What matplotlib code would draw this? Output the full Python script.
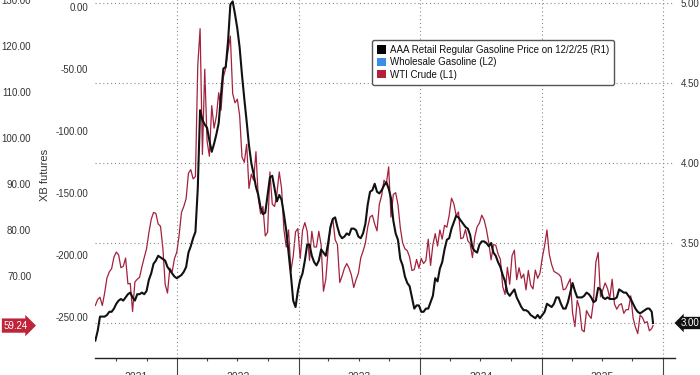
import matplotlib
matplotlib.use("Agg")
import matplotlib.pyplot as plt
import matplotlib.dates as mdates
import matplotlib.transforms as mtransforms
from matplotlib.patches import Patch
import pandas as pd

# WTI crude, weekly closes (first Friday of each block, then every 7 days)
wti_2021 = [63.6, 64.9, 65.4, 63.6, 66.3, 69.6, 70.9, 71.6, 74.1, 75.2,
            74.6, 71.8, 72.1, 73.9, 68.3, 68.4, 62.3, 68.7, 69.3, 69.7,
            72.0, 74.0, 75.9, 79.4, 82.3, 83.8, 83.6, 81.3, 80.8, 76.1,
            68.2, 66.3, 71.7, 70.9, 73.8, 75.2]
wti_2022 = [78.9, 83.8, 85.1, 86.8, 92.3, 93.1, 91.1, 91.6, 115.7, 123.7,
            96.4, 114.9, 99.3, 96.0, 107.0, 102.1, 104.7, 109.8, 106.0, 113.2,
            115.1, 118.9, 122.1, 109.6, 107.6, 108.4, 104.8, 95.8, 94.7, 98.6,
            89.0, 92.1, 90.8, 97.0, 86.9, 83.5, 85.1, 78.7, 79.5, 92.6,
            85.6, 85.1, 87.9, 92.6, 89.0, 80.1, 76.3, 80.0, 71.0, 74.3,
            79.6, 80.3]
wti_2023 = [73.8, 79.9, 81.6, 79.7, 73.4, 79.7, 76.3, 76.3, 79.7, 76.7,
            66.7, 69.3, 75.7, 80.7, 82.5, 77.9, 76.8, 68.6, 70.0, 71.7,
            72.7, 71.7, 70.2, 67.5, 69.2, 70.6, 73.9, 75.4, 77.1, 80.6,
            82.8, 83.2, 81.3, 79.8, 85.6, 87.5, 90.8, 90.0, 93.7, 82.8,
            87.7, 88.1, 85.5, 80.5, 77.2, 75.9, 75.5, 74.1, 71.2, 71.4,
            73.6, 71.7]
wti_2024 = [73.8, 72.7, 73.4, 78.0, 72.3, 76.8, 79.2, 76.5, 80.0, 78.0,
            81.0, 80.6, 83.2, 86.9, 85.7, 83.1, 83.9, 78.1, 78.3, 80.1,
            77.7, 77.0, 74.0, 78.5, 80.7, 81.5, 83.2, 82.2, 80.1, 77.2,
            73.5, 76.8, 76.7, 74.8, 73.6, 67.7, 66.0, 71.9, 68.2, 74.4,
            75.6, 69.2, 71.8, 69.5, 70.4, 67.0, 71.2, 68.0, 67.2, 71.3,
            69.5, 70.6]
wti_2025 = [74.0, 76.6, 80.0, 74.7, 72.5, 71.0, 70.7, 70.4, 69.8, 67.0,
            67.2, 68.3, 69.4, 62.0, 59.0, 64.7, 63.0, 58.3, 57.9, 62.5,
            61.5, 60.8, 64.6, 73.0, 75.1, 65.5, 67.0, 68.5, 67.3, 65.2,
            69.3, 63.9, 62.8, 63.7, 64.0, 61.9, 62.7, 62.7, 65.7, 60.9,
            58.9, 57.5, 61.5, 61.0, 59.8, 60.1, 58.1, 58.6]
wti_last = 59.24

# AAA retail regular gasoline, weekly
aaa_2021 = [2.89, 2.95, 3.04, 3.04, 3.04, 3.05, 3.07, 3.07, 3.09, 3.12,
            3.14, 3.15, 3.14, 3.16, 3.18, 3.19, 3.16, 3.14, 3.18, 3.18,
            3.19, 3.18, 3.20, 3.27, 3.31, 3.37, 3.39, 3.42, 3.41, 3.40,
            3.39, 3.35, 3.33, 3.31, 3.29, 3.28]
aaa_2022 = [3.29, 3.30, 3.32, 3.35, 3.44, 3.48, 3.53, 3.57, 3.84, 4.33,
            4.27, 4.24, 4.22, 4.14, 4.07, 4.12, 4.18, 4.25, 4.43, 4.59,
            4.60, 4.76, 4.99, 5.01, 4.93, 4.84, 4.72, 4.55, 4.40, 4.26,
            4.11, 4.00, 3.93, 3.85, 3.80, 3.72, 3.68, 3.69, 3.80, 3.91,
            3.92, 3.84, 3.76, 3.80, 3.77, 3.68, 3.58, 3.44, 3.30, 3.14,
            3.10, 3.20]
aaa_2023 = [3.27, 3.31, 3.39, 3.49, 3.49, 3.42, 3.38, 3.36, 3.39, 3.46,
            3.44, 3.42, 3.50, 3.60, 3.65, 3.66, 3.60, 3.55, 3.53, 3.54,
            3.56, 3.55, 3.59, 3.59, 3.58, 3.54, 3.53, 3.56, 3.62, 3.74,
            3.82, 3.83, 3.87, 3.82, 3.81, 3.83, 3.86, 3.88, 3.84, 3.78,
            3.64, 3.56, 3.52, 3.40, 3.36, 3.29, 3.25, 3.23, 3.16, 3.09,
            3.11, 3.11]
aaa_2024 = [3.07, 3.07, 3.09, 3.09, 3.13, 3.17, 3.28, 3.26, 3.34, 3.38,
            3.46, 3.52, 3.53, 3.59, 3.63, 3.67, 3.66, 3.64, 3.62, 3.60,
            3.59, 3.55, 3.47, 3.45, 3.44, 3.49, 3.51, 3.51, 3.50, 3.48,
            3.50, 3.44, 3.42, 3.38, 3.35, 3.30, 3.26, 3.19, 3.17, 3.19,
            3.21, 3.16, 3.13, 3.10, 3.08, 3.08, 3.07, 3.05, 3.04, 3.03,
            3.05, 3.03]
aaa_2025 = [3.05, 3.07, 3.12, 3.11, 3.10, 3.12, 3.16, 3.16, 3.12, 3.09,
            3.09, 3.13, 3.19, 3.25, 3.20, 3.16, 3.16, 3.16, 3.17, 3.19,
            3.18, 3.16, 3.13, 3.14, 3.22, 3.21, 3.16, 3.15, 3.16, 3.15,
            3.15, 3.15, 3.16, 3.21, 3.20, 3.19, 3.19, 3.17, 3.15, 3.12,
            3.09, 3.07, 3.06, 3.07, 3.08, 3.09, 3.09, 3.07]
aaa_last = 3.00

block_starts = ["2021-04-30", "2022-01-07", "2023-01-06", "2024-01-05", "2025-01-03"]
last_day = "2025-12-02"
years = [2021, 2022, 2023, 2024, 2025]

legend_labels = ["AAA Retail Regular Gasoline Price on 12/2/25 (R1)",
                 "Wholesale Gasoline (L2)", "WTI Crude (L1)"]
legend_colors = ["#000000", "#3a8ee6", "#b3203a"]

wti_ticks = [70, 80, 90, 100, 110, 120, 130]
xb_ticks = [0, -50, -100, -150, -200, -250]
aaa_ticks = [3.0, 3.5, 4.0, 4.5, 5.0]


def build(blocks):
    dates, vals = [], []
    for start, block in zip(block_starts, blocks):
        dates += list(pd.date_range(start, periods=len(block), freq="7D"))
        vals += block
    return dates, vals


wti_dates, wti = build([wti_2021, wti_2022, wti_2023, wti_2024, wti_2025])
aaa_dates, aaa = build([aaa_2021, aaa_2022, aaa_2023, aaa_2024, aaa_2025])
wti_dates.append(pd.Timestamp(last_day)); wti.append(wti_last)
aaa_dates.append(pd.Timestamp(last_day)); aaa.append(aaa_last)

plt.rcParams["font.family"] = ["Liberation Sans", "DejaVu Sans"]
fig = plt.figure(figsize=(7.0, 3.75), dpi=100)
fig.patch.set_facecolor("white")

# plot area spans px 95..675 horizontally, bottom at 358, top beyond the crop
ax = fig.add_axes([95 / 700, 17 / 375, 580 / 700, 378 / 375])
ax_xb = ax.twinx()
ax_aaa = ax.twinx()

grid_kw = dict(color="#8a8a8a", linewidth=0.8, linestyle=(0, (1, 2.5)))
tick_col = "#333333"
tick_fs = 7

# WTI (outer left axis)
ax.plot(wti_dates, wti, color="#a3213d", linewidth=0.9, zorder=2)
ax.set_ylim(52.2, 134.27)
ax.set_yticks(wti_ticks)
ax.yaxis.set_major_formatter(matplotlib.ticker.FormatStrFormatter("%.2f"))
ax.spines["left"].set_position(("outward", 41))
ax.tick_params(axis="y", length=0, pad=5, labelsize=tick_fs, labelcolor=tick_col)

# XB futures (inner left axis, no visible series)
ax_xb.yaxis.tick_left()
ax_xb.yaxis.set_label_position("left")
ax_xb.set_ylim(-283.06, 21.77)
ax_xb.set_yticks(xb_ticks)
ax_xb.yaxis.set_major_formatter(matplotlib.ticker.FormatStrFormatter("%.2f"))
ax_xb.tick_params(axis="y", length=0, pad=5, labelsize=tick_fs, labelcolor=tick_col)
ax_xb.set_ylabel("XB futures", fontsize=8, color="#333333")
ax_xb.yaxis.set_label_coords(-(95 - 50) / 580, (358 - 175) / 378)

# AAA retail (right axis)
ax_aaa.plot(aaa_dates, aaa, color="#111111", linewidth=1.5, zorder=3)
ax_aaa.set_ylim(2.78125, 5.14375)
ax_aaa.set_yticks(aaa_ticks)
ax_aaa.set_yticklabels([""] + ["%.2f" % t for t in aaa_ticks[1:]])
ax_aaa.tick_params(axis="y", length=0, pad=4.3, labelsize=tick_fs, labelcolor=tick_col)
ax_aaa.grid(axis="y", **grid_kw)
ax_aaa.set_axisbelow(True)

for a in (ax, ax_xb, ax_aaa):
    for s in a.spines.values():
        s.set_visible(False)
ax.spines["bottom"].set_visible(True)
ax.spines["bottom"].set_color("#222222")
ax.spines["bottom"].set_linewidth(1.0)

# x axis: years major, quarters minor
x0, x1 = pd.Timestamp("2021-04-29"), pd.Timestamp("2026-02-06")
ax.set_xlim(x0, x1)
ax.xaxis.set_major_locator(mdates.YearLocator())
ax.xaxis.set_minor_locator(mdates.MonthLocator([4, 7, 10]))
ax.xaxis.set_major_formatter(matplotlib.ticker.NullFormatter())
ax.tick_params(axis="x", which="major", length=12, width=0.8, color="#444444")
ax.tick_params(axis="x", which="minor", length=2.5, width=0.8, color="#444444")
ax.grid(axis="x", which="major", **grid_kw)

for yr in years:
    a = max(x0, pd.Timestamp(f"{yr}-01-01"))
    b = min(x1, pd.Timestamp(f"{yr + 1}-01-01"))
    mid = a + (b - a) / 2
    ax.annotate(str(yr), xy=(mid, 0), xycoords=("data", "axes fraction"),
                xytext=(0, -10), textcoords="offset points",
                ha="center", va="top", fontsize=7.5, color=tick_col)

# last value tags
tr_left = mtransforms.blended_transform_factory(fig.transFigure, ax.transData)
ax.text(4 / 700, wti_last, "%.2f" % wti_last, transform=tr_left,
        ha="left", va="center", fontsize=tick_fs, color="white", zorder=10,
        bbox=dict(boxstyle="rarrow,pad=0.22", fc="#c0243a", ec="none"),
        clip_on=False)
tr_right = mtransforms.blended_transform_factory(fig.transFigure, ax_aaa.transData)
ax_aaa.text(681 / 700, aaa_last, "%.2f" % aaa_last, transform=tr_right,
            ha="left", va="center", fontsize=tick_fs, color="white", zorder=10,
            bbox=dict(boxstyle="larrow,pad=0.12", fc="#111111", ec="none"),
            clip_on=False)

handles = [Patch(facecolor=c, edgecolor="none") for c in legend_colors]
leg = fig.legend(handles, legend_labels, loc="upper left",
                 bbox_to_anchor=(372 / 700, 1 - 40 / 375), borderaxespad=0,
                 fontsize=7, handlelength=0.9, handleheight=0.9,
                 handletextpad=0.4, labelspacing=0.25, borderpad=0.5,
                 fancybox=True, framealpha=1, edgecolor="#555555")
leg.get_frame().set_linewidth(1.0)
for t in leg.get_texts():
    t.set_color("#111111")

fig.savefig("out.png", dpi=100, facecolor="white")
